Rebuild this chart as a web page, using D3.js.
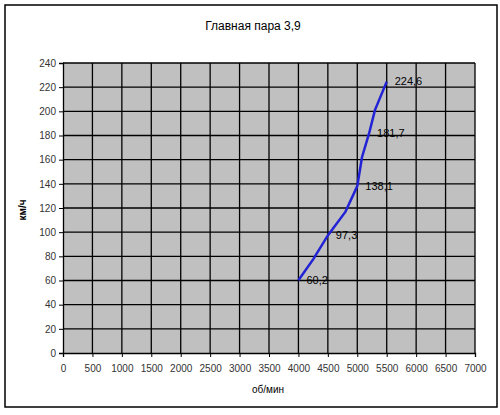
<!DOCTYPE html>
<html>
<head>
<meta charset="utf-8">
<script src="https://cdn.jsdelivr.net/npm/d3@7"></script>
<style>
  body { margin: 0; background: #fff; }
  svg text { font-family: Arial, "Liberation Sans", sans-serif; }
</style>
</head>
<body>
<div id="chart"></div>
<script>
// engine speed, rpm
var rpm = [4000, 4250, 4500, 4800, 5000, 5080, 5200, 5300, 5500];
// vehicle speed, km/h
var speed = [60.2, 77.5, 97.3, 117, 138.1, 162, 181.7, 201, 224.6];
// only some points carry a label
var labels = ['60,2', null, '97,3', null, '138,1', null, '181,7', null, '224,6'];
var xTicks = [0, 500, 1000, 1500, 2000, 2500, 3000, 3500, 4000, 4500, 5000, 5500, 6000, 6500, 7000];
var yTicks = [0, 20, 40, 60, 80, 100, 120, 140, 160, 180, 200, 220, 240];

var width = 500, height = 415;
// plot box (window.top is reserved, so prefixed names)
var plotLeft = 63, plotRight = 475, plotTop = 63, plotBottom = 353;

var svg = d3.select('#chart').append('svg')
  .attr('width', width)
  .attr('height', height);

svg.append('rect')
  .attr('x', 5).attr('y', 5)
  .attr('width', 492).attr('height', 402)
  .attr('fill', '#fff')
  .attr('stroke', '#000')
  .attr('stroke-width', 1.5);

var x = d3.scaleLinear().domain([0, 7000]).range([plotLeft, plotRight]);
var y = d3.scaleLinear().domain([0, 240]).range([plotBottom, plotTop]);

svg.append('rect')
  .attr('x', plotLeft).attr('y', plotTop)
  .attr('width', plotRight - plotLeft).attr('height', plotBottom - plotTop)
  .attr('fill', '#c0c0c0');

// grid
svg.append('g').selectAll('line').data(xTicks.slice(1)).enter().append('line')
  .attr('x1', function (d) { return x(d); })
  .attr('x2', function (d) { return x(d); })
  .attr('y1', plotTop).attr('y2', plotBottom)
  .attr('stroke', '#000').attr('stroke-width', 1.3);
svg.append('g').selectAll('line').data(yTicks.slice(1)).enter().append('line')
  .attr('x1', plotLeft).attr('x2', plotRight)
  .attr('y1', function (d) { return y(d); })
  .attr('y2', function (d) { return y(d); })
  .attr('stroke', '#000').attr('stroke-width', 1.3);

var xAxis = svg.append('g')
  .attr('transform', 'translate(0,' + plotBottom + ')')
  .call(d3.axisBottom(x).tickValues(xTicks).tickSize(4).tickFormat(d3.format('d')));
var yAxis = svg.append('g')
  .attr('transform', 'translate(' + plotLeft + ',0)')
  .call(d3.axisLeft(y).tickValues(yTicks).tickSize(4));

[xAxis, yAxis].forEach(function (a) {
  a.select('.domain').attr('stroke', '#000').attr('stroke-width', 1.3);
  a.selectAll('.tick line').attr('stroke', '#000');
  a.selectAll('text')
    .attr('font-family', 'Arial, "Liberation Sans", sans-serif')
    .attr('font-size', 10)
    .attr('fill', '#333');
});
xAxis.selectAll('text').attr('dy', '1.2em');

// line
var line = d3.line()
  .x(function (d, i) { return x(rpm[i]); })
  .y(function (d, i) { return y(speed[i]); });

svg.append('path')
  .datum(speed)
  .attr('d', line)
  .attr('fill', 'none')
  .attr('stroke', '#2323d6')
  .attr('stroke-width', 2.5);

svg.append('g').selectAll('text')
  .data(labels.map(function (l, i) { return { l: l, i: i }; }).filter(function (d) { return d.l; }))
  .enter().append('text')
  .attr('x', function (d) { return x(rpm[d.i]) + 8; })
  .attr('y', function (d) { return y(speed[d.i]); })
  .attr('dy', '0.35em')
  .attr('font-size', 11)
  .attr('fill', '#000')
  .text(function (d) { return d.l; });

svg.append('text')
  .attr('x', 253).attr('y', 30)
  .attr('text-anchor', 'middle')
  .attr('font-size', 12)
  .attr('fill', '#000')
  .text('Главная пара 3,9');

svg.append('text')
  .attr('transform', 'translate(26,210) rotate(-90)')
  .attr('text-anchor', 'middle')
  .attr('font-size', 10)
  .attr('font-weight', 'bold')
  .attr('fill', '#000')
  .text('км/ч');

svg.append('text')
  .attr('x', 268).attr('y', 393)
  .attr('text-anchor', 'middle')
  .attr('font-size', 10)
  .attr('fill', '#000')
  .text('об/мин');
</script>
</body>
</html>
